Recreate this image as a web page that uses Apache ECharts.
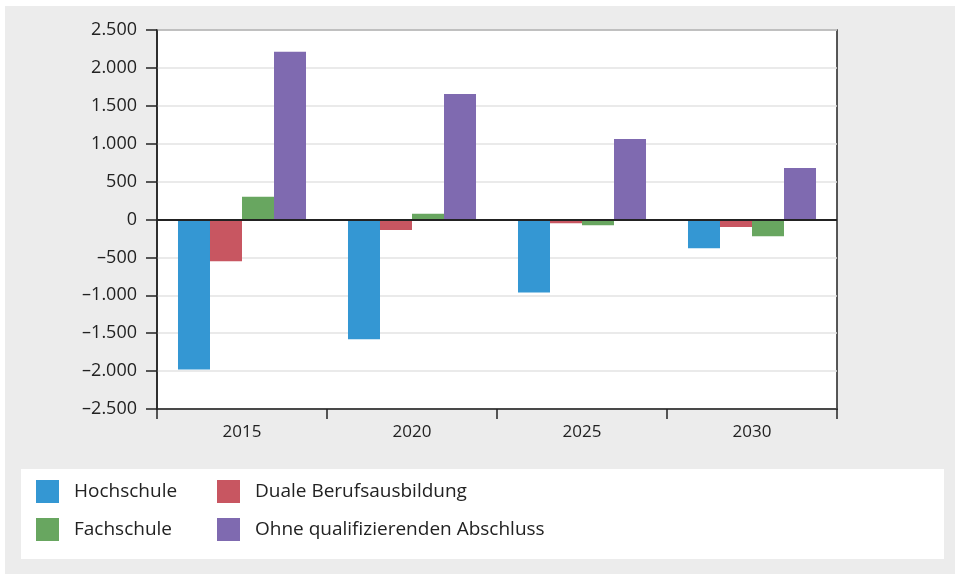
<!DOCTYPE html>
<html>
<head>
<meta charset="utf-8">
<script src="https://cdn.jsdelivr.net/npm/echarts@6/dist/echarts.min.js"></script>
<style>
  html, body { margin: 0; padding: 0; background: #ffffff; }
  #panel { position: absolute; left: 5px; top: 6px; width: 950px; height: 568px; background: #ececec; }
  #legendBox { position: absolute; left: 21px; top: 469px; width: 923px; height: 90px; background: #ffffff; }
  #chart { position: absolute; left: 0; top: 0; width: 955px; height: 574px; }
</style>
</head>
<body>
<div id="panel"></div>
<div id="legendBox"></div>
<div id="chart"></div>
<script>
// Years on the category axis
const years = ['2015', '2020', '2025', '2030'];

// Change per qualification group
const hochschule = [-1980, -1580, -963, -380];
const dualeBerufsausbildung = [-550, -140, -50, -100];
const fachschule = [300, 75, -75, -220];
const ohneAbschluss = [2212, 1657, 1062, 678];

// Value axis range and step
const yMin = -2500;
const yMax = 2500;
const yStep = 500;

const FONT = '"Open Sans", sans-serif';
const TEXT = '#222222';

function fmt(v) {
  const s = Math.abs(v).toString().replace(/\B(?=(\d{3})+(?!\d))/g, '.');
  return v < 0 ? '\u2013' + s : s;
}

const chart = echarts.init(document.getElementById('chart'), null, { renderer: 'canvas' });

const bar = (name, data, color) => ({
  name: name,
  type: 'bar',
  data: data,
  barGap: 0,
  barCategoryGap: '24.7%',
  itemStyle: { color: color },
  emphasis: { disabled: true }
});

const series = [
  bar('Hochschule', hochschule, '#3497d3'),
  bar('Duale Berufsausbildung', dualeBerufsausbildung, '#c85661'),
  bar('Fachschule', fachschule, '#68a660'),
  bar('Ohne qualifizierenden Abschluss', ohneAbschluss, '#7f6ab0')
];
// zero line
series[3].markLine = {
  silent: true,
  symbol: 'none',
  label: { show: false },
  lineStyle: { color: '#222222', width: 2, type: 'solid' },
  data: [{ yAxis: 0 }],
  animation: false
};

const legendCommon = {
  orient: 'vertical',
  itemWidth: 23,
  itemHeight: 23,
  itemGap: 15,
  icon: 'rect',
  selectedMode: false,
  textStyle: { fontFamily: FONT, fontSize: 19, color: TEXT, padding: [0, 0, 0, 10] },
  padding: 0
};

chart.setOption({
  animation: false,
  backgroundColor: 'transparent',
  textStyle: { fontFamily: FONT },
  grid: {
    left: 157, right: 118, top: 30, bottom: 165,
    show: true,
    backgroundColor: '#ffffff',
    borderColor: '#222222',
    borderWidth: 1.5
  },
  legend: [
    Object.assign({}, legendCommon, { left: 36, top: 480, data: ['Hochschule', 'Fachschule'] }),
    Object.assign({}, legendCommon, { left: 217, top: 480, data: ['Duale Berufsausbildung', 'Ohne qualifizierenden Abschluss'] })
  ],
  xAxis: {
    type: 'category',
    data: years,
    axisLine: { onZero: false, lineStyle: { color: '#222222', width: 1.5 } },
    axisTick: { show: true, length: 10, lineStyle: { color: '#222222', width: 1.5 } },
    axisLabel: { fontFamily: FONT, fontSize: 17, color: TEXT, margin: 15 },
    splitLine: { show: false }
  },
  yAxis: {
    type: 'value',
    min: yMin, max: yMax, interval: yStep,
    axisLine: { show: true, lineStyle: { color: '#222222', width: 1.5 } },
    axisTick: { show: true, length: 11, lineStyle: { color: '#222222', width: 1.5 } },
    axisLabel: { fontFamily: FONT, fontSize: 18, color: TEXT, margin: 20, formatter: fmt },
    splitLine: { show: true, lineStyle: { color: '#e3e3e3', width: 1.5 } }
  },
  series: series
});
</script>
</body>
</html>
